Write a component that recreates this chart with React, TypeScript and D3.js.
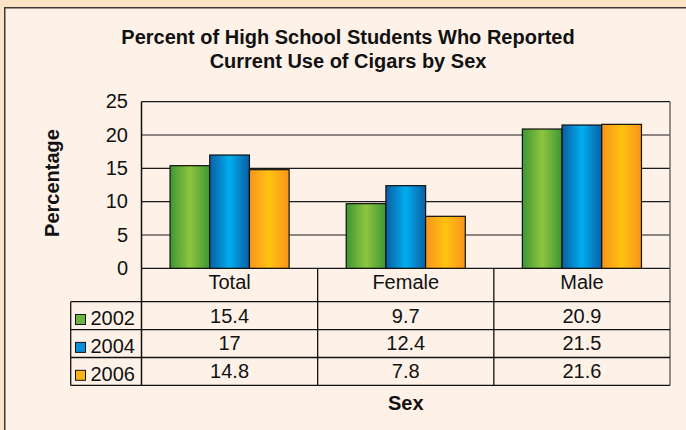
import React, { useEffect } from "react";
import * as d3 from "d3";

const categories = ["Total", "Female", "Male"];
const years = ["2002", "2004", "2006"];
const values2002 = [15.4, 9.7, 20.9];
const values2004 = [17, 12.4, 21.5];
const values2006 = [14.8, 7.8, 21.6];
const yTicks = [0, 5, 10, 15, 20, 25];
const seriesValues = [values2002, values2004, values2006];

// gradient stops per year: edge, light, edge
const seriesColors = [
  { id: "g2002", edge: "#3d9634", light: "#8ec63f", swatch: "#6db33f" },
  { id: "g2004", edge: "#0b5ea3", light: "#00aeef", swatch: "#0a8fd8" },
  { id: "g2006", edge: "#f7941d", light: "#ffc30f", swatch: "#fbb216" },
];

const W = 686;
const H = 430;
const font = "'Liberation Sans', Arial, Helvetica, sans-serif";

export default function App() {
  useEffect(() => {
    document.body.style.margin = "0";
  }, []);

  const plot = { left: 141.5, right: 670, top: 101.7, bottom: 268.3 };
  const table = { left: 70.7, headerBottom: 301.7, rowH: 27.9 };

  const x0 = d3
    .scaleBand<string>()
    .domain(categories)
    .range([plot.left, plot.right])
    .padding(0);
  const inner = x0.bandwidth() * 0.162;
  const x1 = d3
    .scaleBand<string>()
    .domain(years)
    .range([inner, x0.bandwidth() - inner])
    .padding(0);
  const y = d3.scaleLinear().domain([0, 25]).range([plot.bottom, plot.top]);

  const rowY = (i: number) => table.headerBottom + i * table.rowH;
  const tableBottom = rowY(years.length);
  const cx = (c: string) => (x0(c) ?? 0) + x0.bandwidth() / 2;

  return (
    <div style={{ position: "absolute", left: 0, top: 0 }}>
      <svg width={W} height={H} style={{ display: "block" }} fontFamily={font}>
        <defs>
          {seriesColors.map((s) => (
            <linearGradient key={s.id} id={s.id} x1="0" x2="1" y1="0" y2="0">
              <stop offset="0%" stopColor={s.edge} />
              <stop offset="50%" stopColor={s.light} />
              <stop offset="100%" stopColor={s.edge} />
            </linearGradient>
          ))}
        </defs>

        {/* page background + panel */}
        <rect x={0} y={0} width={W} height={H} fill="#fde3c6" />
        <rect x={4} y={7} width={W - 4} height={H - 7} fill="#fef1e8" />
        <path d={`M4.75,${H} V7.75 H${W}`} fill="none" stroke="#3a3a3a" strokeWidth={1.5} />

        {/* title */}
        <text x={348} y={44} textAnchor="middle" fontWeight="bold" fontSize={20} fill="#111">
          Percent of High School Students Who Reported
        </text>
        <text x={348} y={68} textAnchor="middle" fontWeight="bold" fontSize={20} fill="#111">
          Current Use of Cigars by Sex
        </text>

        {/* grid lines */}
        {yTicks.map((t) => (
          <line
            key={t}
            x1={plot.left}
            x2={plot.right}
            y1={y(t)}
            y2={y(t)}
            stroke="#1a1a1a"
            strokeWidth={1.2}
          />
        ))}

        {/* y tick labels */}
        {yTicks.map((t) => (
          <text
            key={t}
            x={128}
            y={y(t)}
            dy="0.33em"
            textAnchor="end"
            fontSize={20}
            fill="#111"
          >
            {t}
          </text>
        ))}

        {/* bars */}
        {categories.map((c, ci) => (
          <g key={c} transform={`translate(${x0(c)},0)`}>
            {years.map((yr, si) => {
              const v = seriesValues[si][ci];
              return (
                <rect
                  key={yr}
                  x={x1(yr)}
                  y={y(v)}
                  width={x1.bandwidth()}
                  height={y(0) - y(v)}
                  fill={`url(#${seriesColors[si].id})`}
                  stroke="#111"
                  strokeWidth={1.2}
                />
              );
            })}
          </g>
        ))}

        {/* plot frame */}
        <line x1={plot.left} x2={plot.left} y1={plot.top} y2={tableBottom} stroke="#111" strokeWidth={1.5} />
        <line x1={plot.right} x2={plot.right} y1={plot.top} y2={tableBottom} stroke="#6b6b6b" strokeWidth={1.5} />

        {/* data table */}
        {categories.slice(1).map((c) => (
          <line
            key={c}
            x1={x0(c)}
            x2={x0(c)}
            y1={plot.bottom}
            y2={tableBottom}
            stroke="#111"
            strokeWidth={1.3}
          />
        ))}
        {years.map((yr, i) => (
          <line
            key={yr}
            x1={table.left}
            x2={plot.right}
            y1={rowY(i)}
            y2={rowY(i)}
            stroke="#111"
            strokeWidth={1.3}
          />
        ))}
        <line x1={table.left} x2={plot.right} y1={tableBottom} y2={tableBottom} stroke="#111" strokeWidth={1.3} />
        <line x1={table.left} x2={table.left} y1={table.headerBottom} y2={tableBottom} stroke="#111" strokeWidth={1.3} />

        {categories.map((c) => (
          <text key={c} x={cx(c)} y={289} textAnchor="middle" fontSize={20} fill="#111">
            {c}
          </text>
        ))}

        {years.map((yr, si) => (
          <g key={yr}>
            <rect
              x={75.5}
              y={rowY(si) + 12.8}
              width={10}
              height={10}
              fill={seriesColors[si].swatch}
              stroke="#111"
              strokeWidth={1}
            />
            <text x={90.5} y={rowY(si) + 23.3} fontSize={20} fill="#111">
              {yr}
            </text>
            {categories.map((c, ci) => (
              <text
                key={c}
                x={cx(c)}
                y={rowY(si) + 20.8}
                textAnchor="middle"
                fontSize={20}
                fill="#111"
              >
                {seriesValues[si][ci]}
              </text>
            ))}
          </g>
        ))}

        {/* axis titles */}
        <text
          transform={`translate(58.5,183) rotate(-90)`}
          textAnchor="middle"
          fontWeight="bold"
          fontSize={20}
          fill="#111"
        >
          Percentage
        </text>
        <text x={(plot.left + plot.right) / 2} y={410} textAnchor="middle" fontWeight="bold" fontSize={20} fill="#111">
          Sex
        </text>
      </svg>
    </div>
  );
}
